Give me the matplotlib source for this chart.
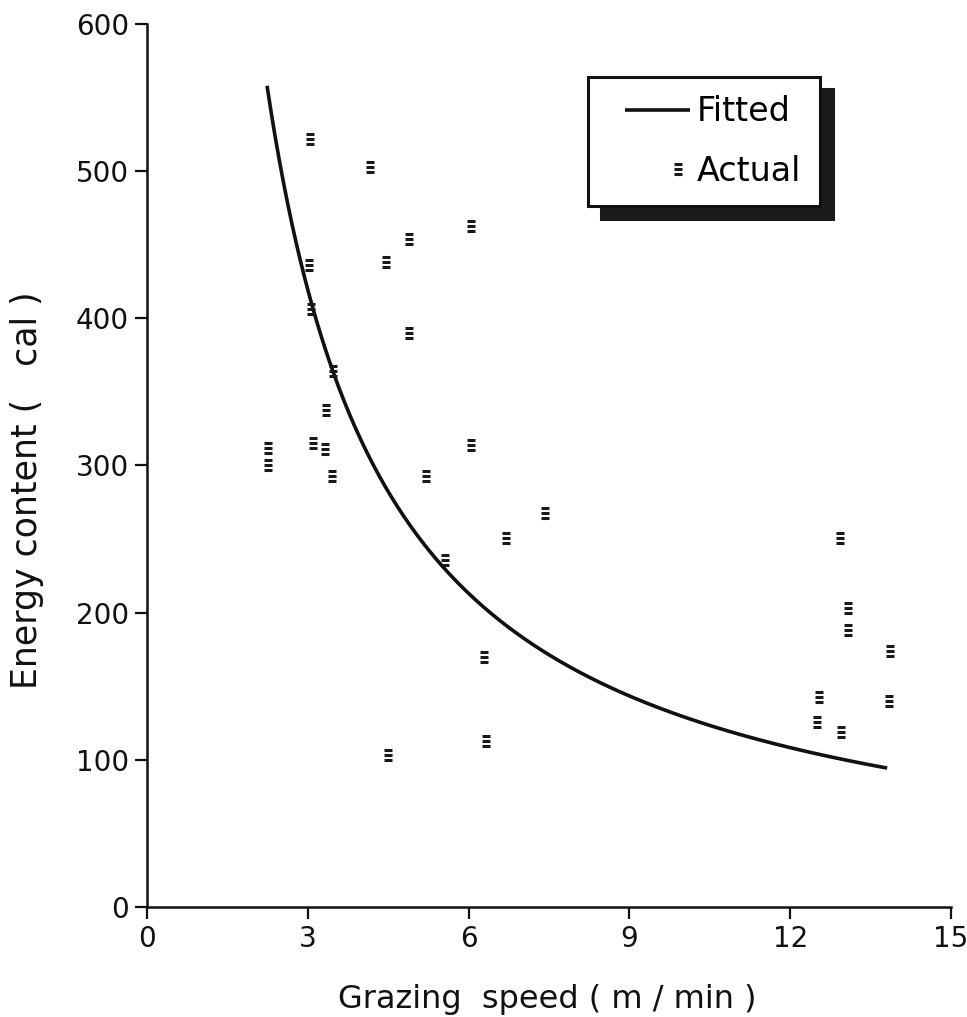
import matplotlib
matplotlib.use("Agg")
import matplotlib.pyplot as plt
import numpy as np
from matplotlib.path import Path
from matplotlib.legend_handler import HandlerLine2D

plt.rcParams['font.family'] = ['DejaVu Sans']

# Observed grazing speed (m/min) and energy content (cal)
speed = [2.26, 2.26, 3.04, 3.02, 3.06, 3.10, 3.32, 3.34, 3.47, 3.45,
         4.16, 4.46, 4.50, 4.89, 4.89, 5.21, 5.56, 6.04, 6.04, 6.29,
         6.32, 6.70, 7.43, 12.93, 13.08, 13.08, 12.54, 12.50, 12.95,
         13.86, 13.84]
energy = [312, 300, 522, 436, 406, 315, 311, 338, 364, 293,
          503, 438, 103, 454, 390, 293, 236, 463, 314, 170,
          113, 251, 268, 251, 203, 188, 143, 126, 119,
          174, 140]

# Power-law fit: energy = a * speed ** (-b)
fit_a = 1227.0
fit_b = 0.977
fit_range = (2.24, 13.81)

x_ticks = [0, 3, 6, 9, 12, 15]
y_ticks = [0, 100, 200, 300, 400, 500, 600]

ink = '#111111'

fig = plt.figure(figsize=(9.67, 10.17), dpi=100)
ax = fig.add_axes([0.152, 0.1082, 0.8314, 0.8682])

xs = np.linspace(fit_range[0], fit_range[1], 300)
fit_line, = ax.plot(xs, fit_a * xs ** (-fit_b), color=ink, lw=2.6,
                    label='Fitted', solid_capstyle='butt')

# small stacked-bar glyph used for observations
bars = Path([(-0.8, 1), (0.8, 1), (-0.8, 0), (0.8, 0), (-0.8, -1), (0.8, -1)],
            [Path.MOVETO, Path.LINETO, Path.MOVETO, Path.LINETO,
             Path.MOVETO, Path.LINETO])
obs, = ax.plot(speed, energy, linestyle='none', marker=bars, markersize=6.6,
               markeredgewidth=2.2, color='#1a1a1a', label='Actual')

ax.set_xlim(0, 15)
ax.set_ylim(0, 600)
ax.set_xticks(x_ticks)
ax.set_yticks(y_ticks)
ax.tick_params(axis='both', direction='out', length=8.5, width=1.6,
               labelsize=20, colors=ink, pad=4.5)
for side in ('top', 'right'):
    ax.spines[side].set_visible(False)
for side in ('left', 'bottom'):
    ax.spines[side].set_linewidth(1.8)
    ax.spines[side].set_color(ink)

fig.text(547 / 967, 1 - 1008 / 1017, 'Grazing  speed ( m / min )',
         fontsize=23, color=ink, ha='center', va='baseline')
fig.text(27 / 967, 1 - 490 / 1017, 'Energy content (   cal )',
         fontsize=25, color=ink, ha='center', va='center', rotation=90)


class SpanHandle(HandlerLine2D):
    """Legend handler drawing its artist over a chosen part of the handle box."""
    def __init__(self, start, stop, **kw):
        super().__init__(**kw)
        self.start, self.stop = start, stop

    def get_xdata(self, legend, xdescent, ydescent, width, height, fontsize):
        xdata = np.array([-xdescent + self.start * width,
                          -xdescent + self.stop * width])
        return xdata, np.array([xdata.mean()])


leg = ax.legend(handles=[fit_line, obs], loc='upper left',
                bbox_to_anchor=(0.548, 0.70, 0.2886, 0.24), mode='expand',
                numpoints=1,
                handler_map={fit_line: SpanHandle(0.23, 1.0),
                             obs: SpanHandle(0.72, 1.0)},
                fontsize=24, frameon=True, fancybox=False,
                handlelength=2.52, handletextpad=0.2, borderpad=0.55,
                labelspacing=0.8, borderaxespad=0,
                shadow={'ox': 9.5, 'oy': -9, 'color': '#1a1a1a', 'alpha': 1.0})
leg.get_frame().set_edgecolor(ink)
leg.get_frame().set_linewidth(2.2)
leg.get_frame().set_facecolor('white')

fig.savefig('out.png', dpi=100)
